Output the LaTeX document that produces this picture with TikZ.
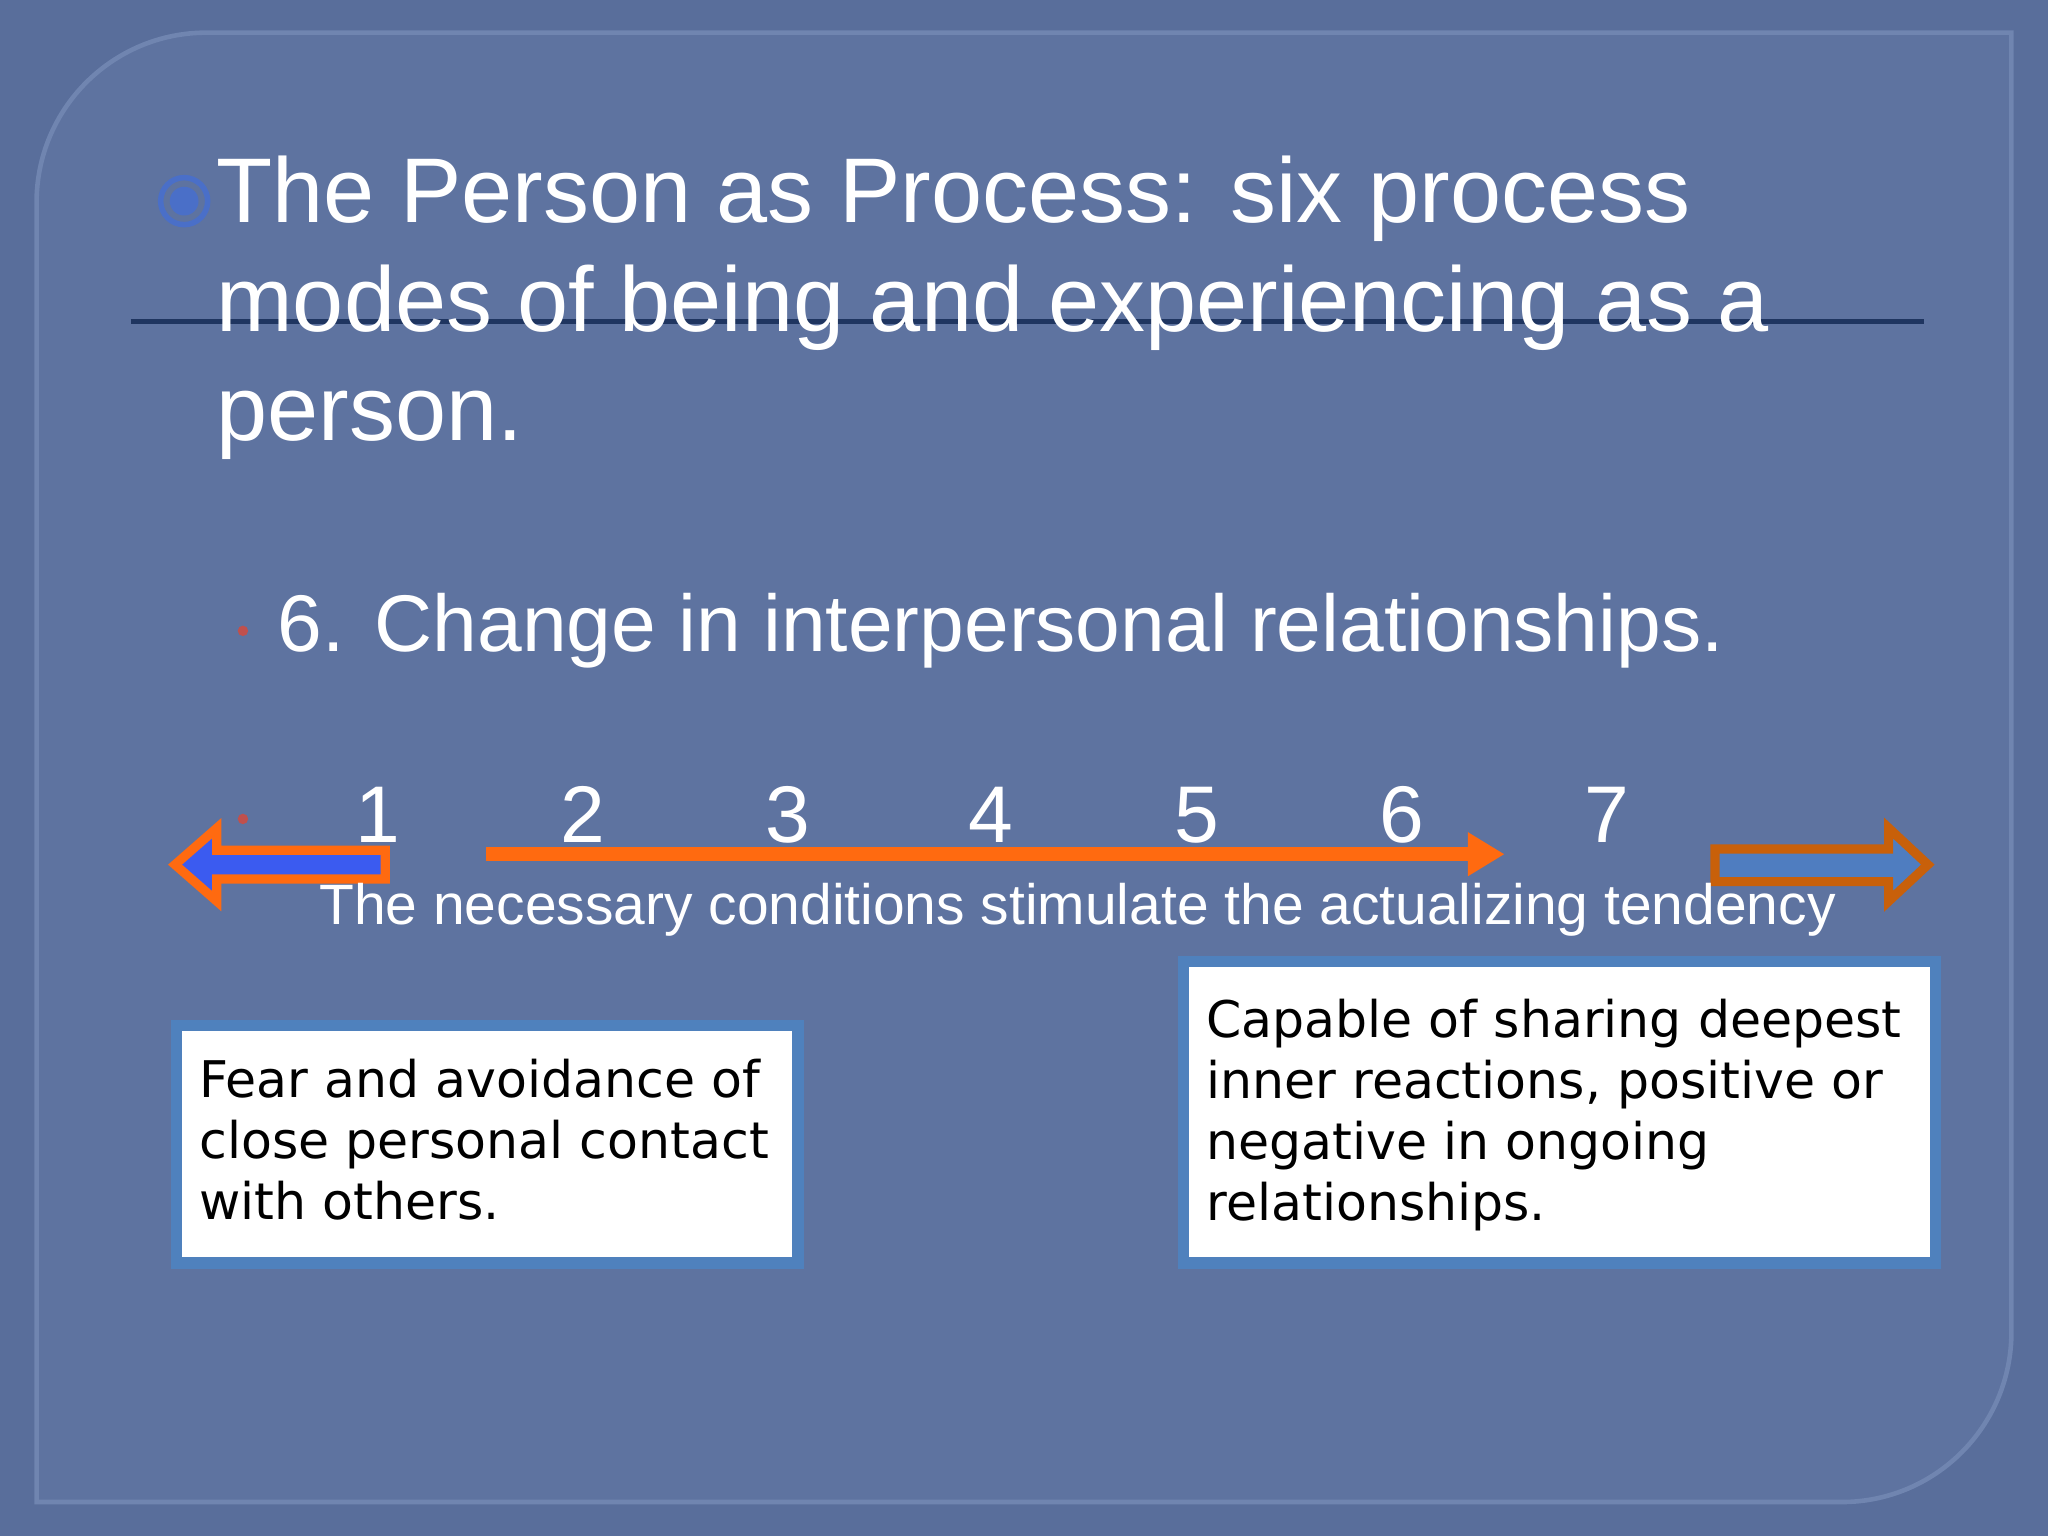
\documentclass[tikz,border=0pt]{standalone}
\usepackage{fontspec}
\setmainfont{Liberation Sans}
\newfontfamily\boxfont{DejaVu Sans}
\usetikzlibrary{arrows.meta}
\definecolor{bgout}{HTML}{596E9B}
\definecolor{bgin}{HTML}{5E73A0}
\definecolor{panelline}{HTML}{7085B0}
\definecolor{navy}{HTML}{1F3560}
\definecolor{bullblue}{HTML}{4A6FC8}
\definecolor{dotred}{HTML}{C0504D}
\definecolor{orng}{HTML}{FF6A10}
\definecolor{brorng}{HTML}{C8600A}
\definecolor{arrblue}{HTML}{3B5BF0}
\definecolor{arrsteel}{HTML}{4F7DC0}
\definecolor{boxline}{HTML}{4F81BD}
\begin{document}
\begin{tikzpicture}[x=0.01cm,y=-0.01cm,
  txt/.style={text=white,anchor=base west,inner sep=0},
  num/.style={text=white,anchor=base,inner sep=0,font=\fontsize{17.5pt}{20pt}\selectfont},
  infobox/.style={draw=boxline,line width=2.5pt,fill=white},
  reddot/.style={fill=dotred,draw=none}]
\useasboundingbox (0,0) rectangle (1568,1176);
\fill[bgout] (0,0) rectangle (1568,1176);
\draw[panelline,fill=bgin,line width=1pt] (158,25) -- (1540,25) -- (1540,1020) arc[start angle=0,end angle=90,radius=130] -- (28,1150) -- (28,155) arc[start angle=180,end angle=270,radius=130] -- cycle;
\draw[navy,line width=1.2pt] (100,246) -- (1473,246);
\draw[bullblue,line width=1.2pt] (141,154) circle (18);
\fill[bullblue] (141,154) circle (11);
\node[txt,font=\fontsize{20pt}{24pt}\selectfont] (t1) at (165,170) {The Person as Process: six process};
\node[txt,font=\fontsize{20pt}{24pt}\selectfont] (t2) at (165,254) {modes of being and experiencing as a};
\node[txt,font=\fontsize{20pt}{24pt}\selectfont] (t3) at (165,337) {person.};
\fill[reddot] (186,483) circle (4);
\node[txt,font=\fontsize{17.5pt}{20pt}\selectfont] (sub) at (212,499) {6. Change in interpersonal relationships.};
\fill[reddot] (186,627) circle (4);
\foreach \n/\x in {1/289,2/446,3/603,4/759,5/916,6/1073,7/1230}
  \node[num] (n\n) at (\x,645) {\n};
\coordinate (oa) at (372,654);
\coordinate (ob) at (1152,654);
\draw[orng,line width=3pt,-{Triangle[length=8pt,width=9pt]}] (oa) -- (ob);
\draw[orng,line width=2pt,fill=arrblue,line join=miter] (295,651) -- (166,651) -- (166,634) -- (134,662) -- (166,690) -- (166,673) -- (295,673) -- cycle;
\draw[brorng,line width=2pt,fill=arrsteel,line join=miter] (1313,650) -- (1446,650) -- (1446,634) -- (1476,662) -- (1446,690) -- (1446,675) -- (1313,675) -- cycle;
\node[text=white,anchor=base,inner sep=0,font=\fontsize{12.4pt}{14pt}\selectfont] (cap) at (825,708) {The necessary conditions stimulate the actualizing tendency};
\draw[infobox] (135,785) rectangle (611,967);
\draw[infobox] (906,736) rectangle (1482,967);
\node[anchor=north west,inner sep=0,align=left,font=\boxfont\fontsize{11pt}{13.3pt}\selectfont] (lt) at (152,810) {Fear and avoidance of\\close personal contact\\with others.};
\node[anchor=north west,inner sep=0,align=left,font=\boxfont\fontsize{11pt}{13.3pt}\selectfont] (rt) at (923,764) {Capable of sharing deepest\\inner reactions, positive or\\negative in ongoing\\relationships.};
\end{tikzpicture}
\end{document}
